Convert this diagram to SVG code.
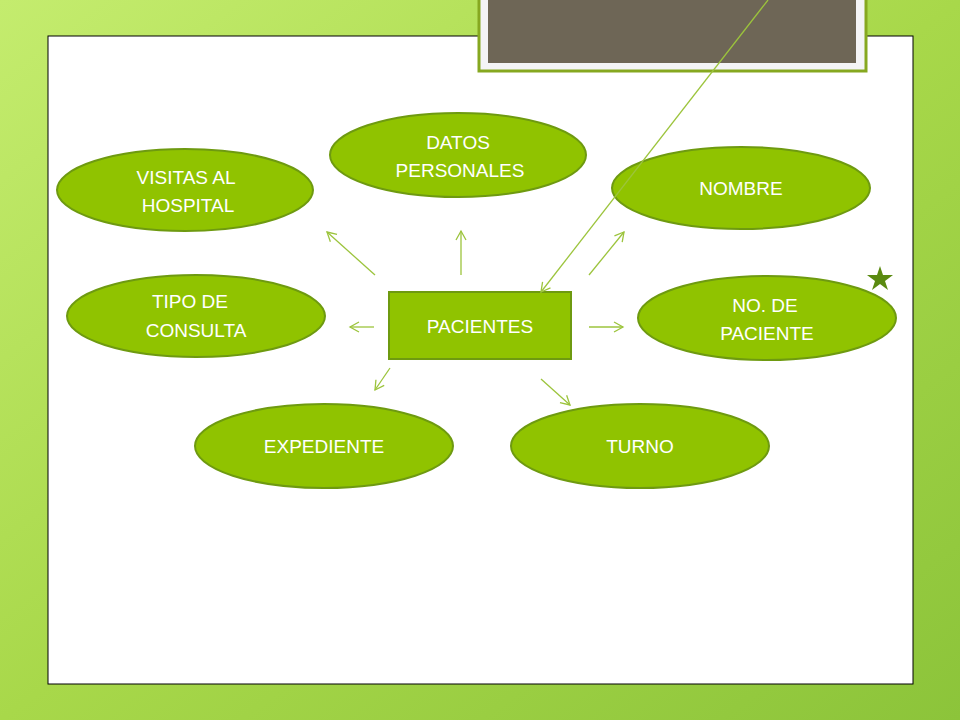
<svg xmlns="http://www.w3.org/2000/svg" width="960" height="720" viewBox="0 0 960 720">
<defs>
<linearGradient id="bg" x1="0" y1="0" x2="1" y2="1"><stop offset="0" stop-color="#c4ec6e"/><stop offset="0.5" stop-color="#a8d84a"/><stop offset="1" stop-color="#8cc43a"/></linearGradient>
<marker id="ah" markerWidth="12" markerHeight="12" refX="10" refY="6" orient="auto" markerUnits="userSpaceOnUse"><path d="M1,1 L10,6 L1,11" fill="none" stroke="#9cc43c" stroke-width="1.3"/></marker>
<style>
.n{fill:#90c300;stroke:#6e9a10;stroke-width:2}
.t{font-family:"Liberation Sans",Arial,sans-serif;font-size:19px;fill:#fff;text-anchor:middle}
.c line{stroke:#9cc43c;stroke-width:1.3;marker-end:url(#ah)}
</style>
</defs>
<rect width="960" height="720" fill="url(#bg)"/>
<rect x="48" y="36" width="865" height="648" fill="#fff" stroke="#000" stroke-width="1"/>
<g id="topbox"><rect x="479" y="-3" width="387" height="74" fill="#f4f4f6" stroke="#86a820" stroke-width="3"/><rect x="488" y="-2" width="368" height="65" fill="#6e6656"/></g>
<g id="pacientes"><rect class="n" x="389" y="292" width="182" height="67"/><text class="t" x="480" y="333">PACIENTES</text></g>
<g id="datos"><ellipse class="n" cx="458" cy="155" rx="128" ry="42"/><text class="t" x="458" y="149">DATOS</text><text class="t" x="460" y="177">PERSONALES</text></g>
<g id="visitas"><ellipse class="n" cx="185" cy="190" rx="128" ry="41"/><text class="t" x="186" y="184">VISITAS AL</text><text class="t" x="188" y="212">HOSPITAL</text></g>
<g id="nombre"><ellipse class="n" cx="741" cy="188" rx="129" ry="41"/><text class="t" x="741" y="195">NOMBRE</text></g>
<g id="tipo"><ellipse class="n" cx="196" cy="316" rx="129" ry="41"/><text class="t" x="190" y="308">TIPO DE</text><text class="t" x="196" y="337">CONSULTA</text></g>
<g id="nopaciente"><ellipse class="n" cx="767" cy="318" rx="129" ry="42"/><text class="t" x="765" y="312">NO. DE</text><text class="t" x="767" y="340">PACIENTE</text></g>
<g id="expediente"><ellipse class="n" cx="324" cy="446" rx="129" ry="42"/><text class="t" x="324" y="453">EXPEDIENTE</text></g>
<g id="turno"><ellipse class="n" cx="640" cy="446" rx="129" ry="42"/><text class="t" x="640" y="453">TURNO</text></g>
<g class="c" id="connectors">
<line x1="768" y1="0" x2="541" y2="292"/>
<line x1="375" y1="275" x2="327" y2="232"/>
<line x1="461" y1="275" x2="461" y2="231"/>
<line x1="589" y1="275" x2="624" y2="232"/>
<line x1="374" y1="327" x2="350" y2="327"/>
<line x1="589" y1="327" x2="623" y2="327"/>
<line x1="390" y1="368" x2="375" y2="390"/>
<line x1="541" y1="379" x2="570" y2="405"/>
</g>
<polygon points="880,266 883,275 893,275 885,281 888,290 880,284 872,290 875,281 867,275 877,275" fill="#5a8a10"/>
</svg>
